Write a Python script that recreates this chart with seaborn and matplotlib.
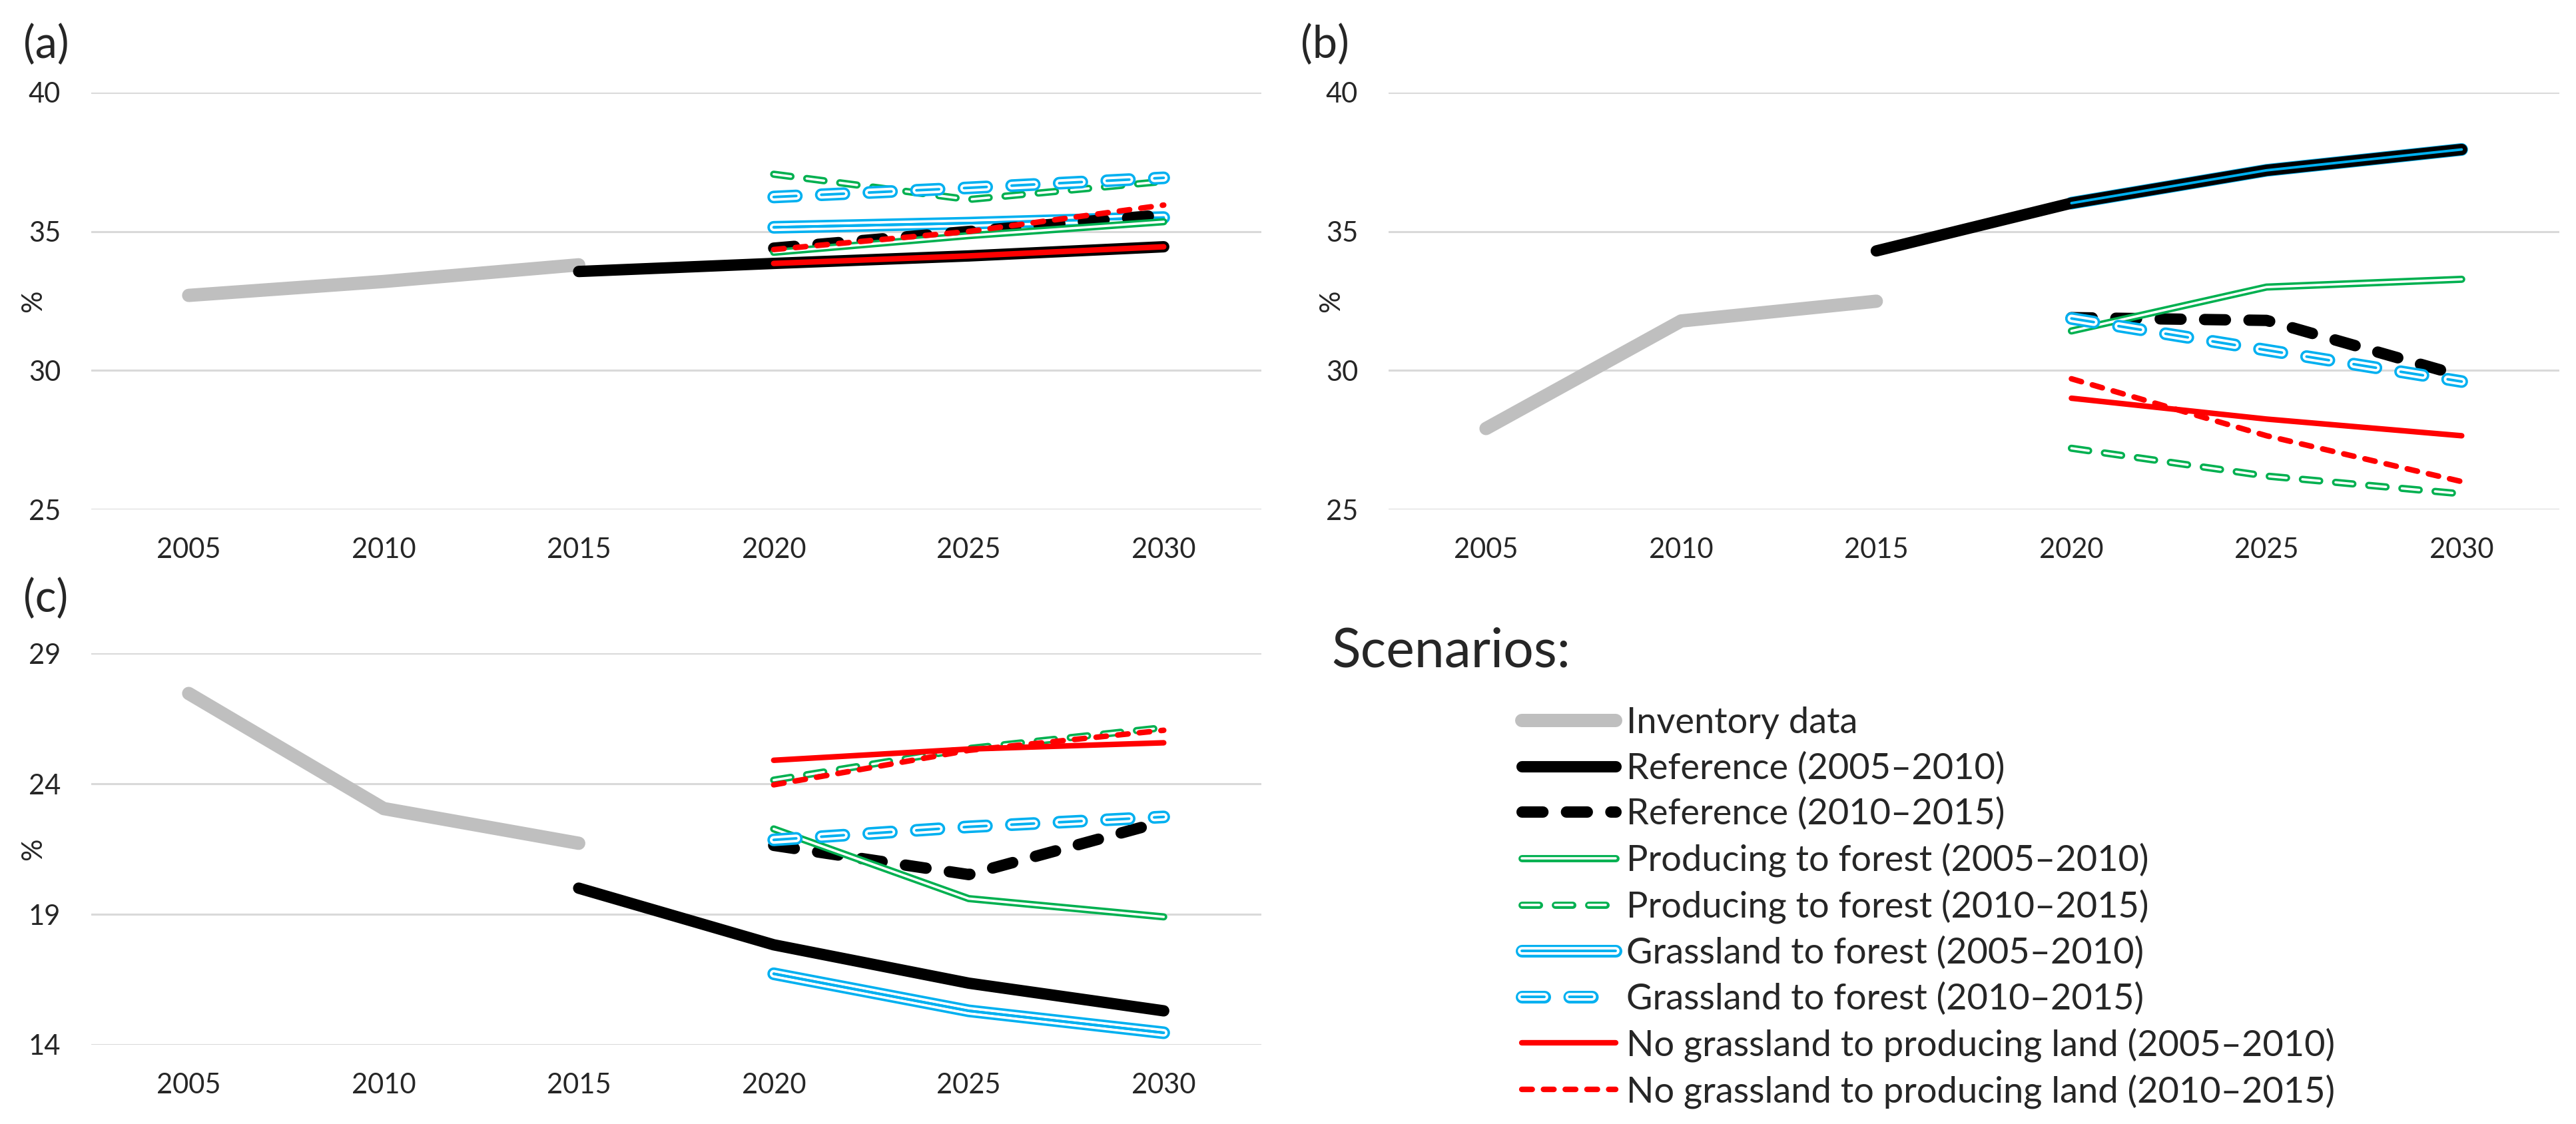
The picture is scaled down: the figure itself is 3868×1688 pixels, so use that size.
import numpy as np
import pandas as pd
import matplotlib
matplotlib.use("Agg")
import matplotlib.pyplot as plt
import matplotlib.patheffects as pe
import seaborn as sns

sns.set_style("white")
plt.rcParams["font.family"] = ["Lato", "DejaVu Sans"]
plt.rcParams["lines.scale_dashes"] = False

# ---------------- data ----------------
years_inv = [2005, 2010, 2015]
years_ref = [2015, 2020, 2025, 2030]
years_scn = [2020, 2025, 2030]

# panel (a)
a_inventory = [32.7, 33.2, 33.8]
a_ref_0510 = [33.56, 33.85, 34.12, 34.45]
a_ref_1015 = [34.4, 35.0, 35.6]
a_prod_0510 = [34.25, 34.85, 35.35]
a_prod_1015 = [37.06, 36.15, 36.8]
a_grass_0510 = [35.15, 35.3, 35.5]
a_grass_1015 = [36.24, 36.57, 36.93]
a_nogr_0510 = [33.85, 34.12, 34.45]
a_nogr_1015 = [34.35, 35.0, 35.95]

# panel (b)
b_inventory = [27.91, 31.78, 32.49]
b_ref_0510 = [34.3, 36.02, 37.2, 37.95]
b_ref_1015 = [31.9, 31.8, 29.8]
b_prod_0510 = [31.42, 33.0, 33.28]
b_prod_1015 = [27.2, 26.2, 25.56]
b_grass_0510 = [36.02, 37.2, 37.95]
b_grass_1015 = [31.87, 30.73, 29.6]
b_nogr_0510 = [29.0, 28.25, 27.65]
b_nogr_1015 = [29.7, 27.65, 26.0]

# panel (c)
c_inventory = [27.46, 23.05, 21.72]
c_ref_0510 = [20.0, 17.83, 16.36, 15.3]
c_ref_1015 = [21.64, 20.52, 22.56]
c_prod_0510 = [22.27, 19.6, 18.9]
c_prod_1015 = [24.14, 25.35, 26.15]
c_grass_0510 = [16.72, 15.3, 14.46]
c_grass_1015 = [21.85, 22.35, 22.73]
c_nogr_0510 = [24.9, 25.33, 25.57]
c_nogr_1015 = [23.96, 25.28, 26.05]

labels = [
    "Inventory data",
    "Reference (2005\u20132010)",
    "Reference (2010\u20132015)",
    "Producing to forest (2005\u20132010)",
    "Producing to forest (2010\u20132015)",
    "Grassland to forest (2005\u20132010)",
    "Grassland to forest (2010\u20132015)",
    "No grassland to producing land (2005\u20132010)",
    "No grassland to producing land (2010\u20132015)",
]

year_ticks = [2005, 2010, 2015, 2020, 2025, 2030]
yticks_ab = [25, 30, 35, 40]
yticks_c = [14, 19, 24, 29]

GRAY = "#BFBFBF"
GREEN = "#00B050"
BLUE = "#00B0F0"
RED = "#FF0000"


def double(color, outer, inner):
    return dict(color="white", lw=inner,
                path_effects=[pe.Stroke(linewidth=outer, foreground=color), pe.Normal()])


def triple(color, outer, gap, center):
    return dict(color=color, lw=center,
                path_effects=[pe.Stroke(linewidth=outer, foreground=color),
                              pe.Stroke(linewidth=gap, foreground="white"),
                              pe.Normal()])


styles = {
    labels[0]: dict(color=GRAY, lw=14.4),
    labels[1]: dict(color="black", lw=12.3),
    labels[2]: dict(color="black", lw=12.3, linestyle=(0, (22.5, 25.5))),
    labels[3]: double(GREEN, 7.8, 2.6),
    labels[4]: dict(**double(GREEN, 7.8, 2.6), linestyle=(0, (18.8, 17.2))),
    labels[5]: triple(BLUE, 13.7, 8.4, 2.8),
    labels[6]: dict(**triple(BLUE, 13.7, 8.4, 2.8), linestyle=(0, (24.5, 27))),
    labels[7]: dict(color=RED, lw=6),
    labels[8]: dict(color=RED, lw=6, linestyle=(0, (11.3, 12.2))),
}

panels = {
    "a": [a_inventory, a_ref_0510, a_ref_1015, a_prod_0510, a_prod_1015,
          a_grass_0510, a_grass_1015, a_nogr_0510, a_nogr_1015],
    "b": [b_inventory, b_ref_0510, b_ref_1015, b_prod_0510, b_prod_1015,
          b_grass_0510, b_grass_1015, b_nogr_0510, b_nogr_1015],
    "c": [c_inventory, c_ref_0510, c_ref_1015, c_prod_0510, c_prod_1015,
          c_grass_0510, c_grass_1015, c_nogr_0510, c_nogr_1015],
}
series_years = [years_inv, years_ref] + [years_scn] * 7
# drawing order: grassland 2005-2010 beneath the reference line, its centre
# stripe redrawn above it (Excel compound lines are see-through between stripes)
draw_order = [0, 5, 1, "5c", 2, 3, 4, 6, 7, 8]

fig = plt.figure(figsize=(38.68, 16.88), dpi=100)
axes = {
    "a": fig.add_axes([0.0354, 0.5468, 0.4542, 0.3709]),
    "b": fig.add_axes([0.5390, 0.5468, 0.4545, 0.3709]),
    "c": fig.add_axes([0.0354, 0.0705, 0.4542, 0.3483]),
}
ylabel_x = {"a": -0.0387, "b": -0.038, "c": -0.0387}

for key, ax in axes.items():
    vals = panels[key]
    for item in draw_order:
        if item == "5c":
            df = pd.DataFrame({"year": series_years[5], "value": vals[5]})
            sns.lineplot(data=df, x="year", y="value", ax=ax, legend=False,
                         errorbar=None, color=BLUE, lw=2.8,
                         solid_capstyle="round", solid_joinstyle="round")
            continue
        i = item
        df = pd.DataFrame({"year": series_years[i], "value": vals[i]})
        sns.lineplot(data=df, x="year", y="value", ax=ax, label=labels[i],
                     legend=False, errorbar=None,
                     solid_capstyle="round", dash_capstyle="round",
                     solid_joinstyle="round", **styles[labels[i]])
    ax.set_xlim(2002.5, 2032.5)
    ax.set_xticks(year_ticks)
    ax.set_xticklabels([str(y) for y in year_ticks])
    if key == "c":
        ax.set_ylim(14, 29)
        ax.set_yticks(yticks_c)
    else:
        ax.set_ylim(25, 40)
        ax.set_yticks(yticks_ab)
    ax.grid(axis="y", color="#D9D9D9", lw=2.2)
    ax.grid(axis="x", visible=False)
    ax.set_axisbelow(True)
    for s in ax.spines.values():
        s.set_visible(False)
    ax.tick_params(axis="both", length=0, labelsize=30, colors="#262626")
    ax.tick_params(axis="x", pad=30)
    ax.tick_params(axis="y", pad=33)
    ax.set_xlabel("")
    ax.set_ylabel("%", fontsize=30, color="#262626")
    ax.yaxis.set_label_coords(ylabel_x[key], 0.5)
    ax.patch.set_alpha(0)

fig.text(35 / 3868, 1 - 68 / 1688, "(a)", fontsize=48, va="center", ha="left")
fig.text(1953 / 3868, 1 - 68 / 1688, "(b)", fontsize=48, va="center", ha="left")
fig.text(35 / 3868, 1 - 900 / 1688, "(c)", fontsize=48, va="center", ha="left")

fig.text(1999 / 3868, 1 - 978 / 1688, "Scenarios:", fontsize=58, va="center", ha="left")

h, l = axes["a"].get_legend_handles_labels()
hmap = dict(zip(l, h))
fig.legend([hmap[x] for x in labels], labels, loc="upper left",
           bbox_to_anchor=(2285 / 3868, 1 - 1061 / 1688), frameon=False,
           fontsize=39, handlelength=2.6, handletextpad=0.3, labelspacing=0.34,
           borderpad=0, borderaxespad=0)

fig.savefig("out.png", dpi=100, facecolor="white")
